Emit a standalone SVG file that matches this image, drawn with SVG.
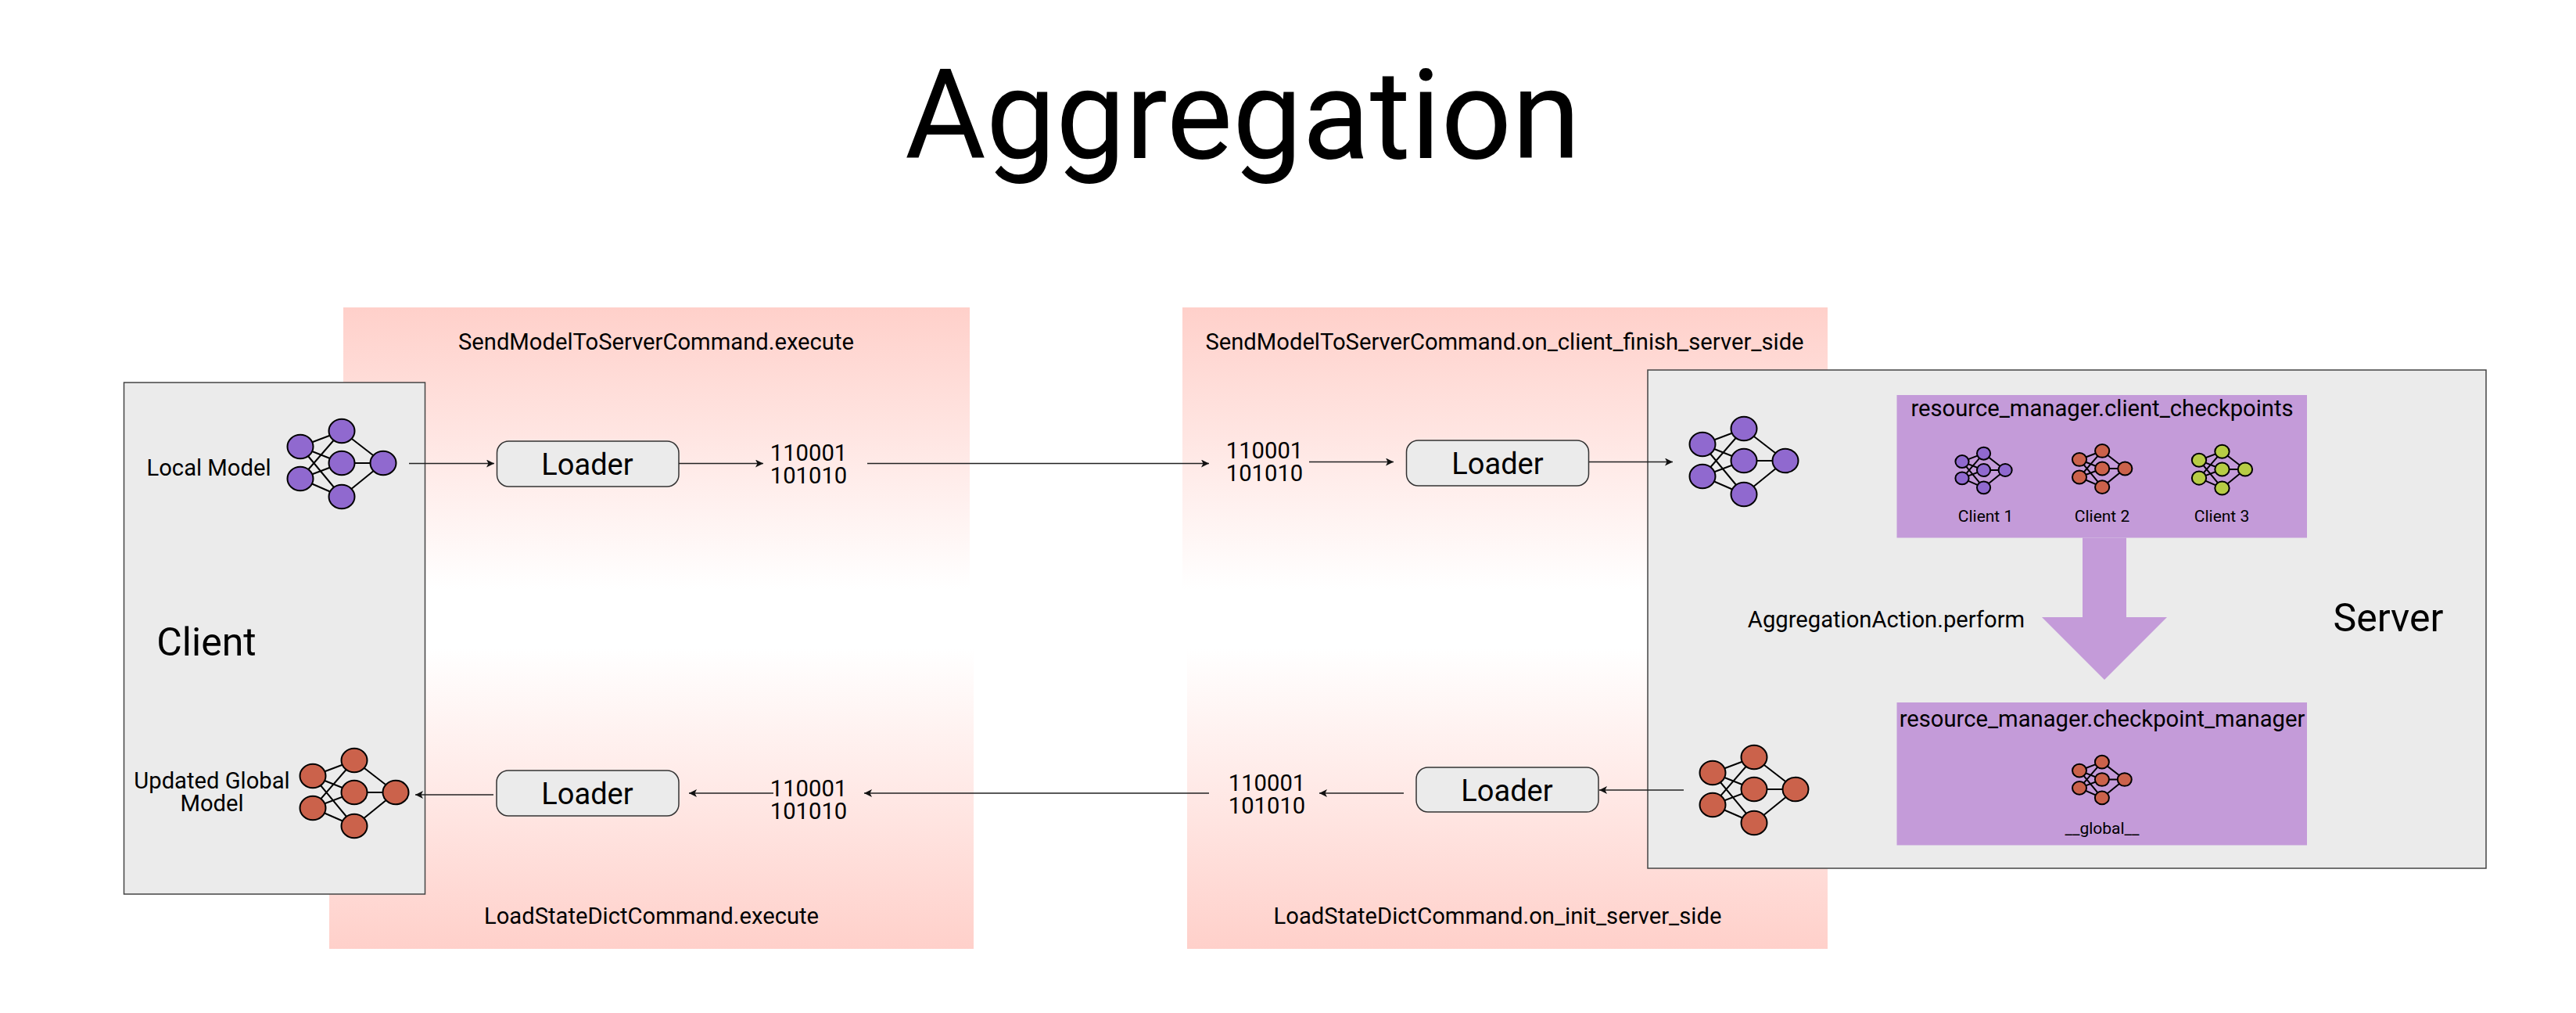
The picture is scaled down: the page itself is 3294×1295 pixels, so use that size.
<svg xmlns="http://www.w3.org/2000/svg" xmlns:xlink="http://www.w3.org/1999/xlink" width="3294" height="1295" viewBox="0 0 3294 1295">
<style>
text{font-family:Roboto,"Liberation Sans",sans-serif;fill:#000;text-anchor:middle}
.t{font-size:29.200px}
.l{font-size:38px}
.b{font-size:50px}
.s{font-size:21px}
.box{fill:#ebebeb;stroke:#444;stroke-width:1.5}
.loader{fill:#ebebeb;stroke:#333;stroke-width:1.5}
.pbox{fill:#c49bd9}
.conn{fill:none;stroke:#222;stroke-width:1.6;marker-end:url(#ah)}
.nl{stroke:#000;stroke-width:2;fill:none;vector-effect:non-scaling-stroke}
.nn{stroke:#000;stroke-width:2;vector-effect:non-scaling-stroke}
.pu{fill:#9069cf}.re{fill:#cb624b}.gr{fill:#b7cc45}
</style>
<defs>
<linearGradient id="gd" x1="0" y1="0" x2="0" y2="1"><stop offset="0" stop-color="#ffd0ca"/><stop offset="1" stop-color="#fff"/></linearGradient>
<linearGradient id="gu" x1="0" y1="1" x2="0" y2="0"><stop offset="0" stop-color="#ffd0ca"/><stop offset="1" stop-color="#fff"/></linearGradient>
<marker id="ah" markerUnits="userSpaceOnUse" markerWidth="12" markerHeight="12" refX="10" refY="5" orient="auto"><path d="M0 0L10 5L0 10L2.5 5Z" fill="#111"/></marker>
<g id="nn">
<path class="nl" d="M0-21L53-41M0-21L53 0M0-21L53 43M0 20L53-41M0 20L53 0M0 20L53 43M53-41L106 0M53 0L106 0M53 43L106 0"/>
<ellipse class="nn" cx="0" cy="-21" rx="16.500" ry="15.300"/><ellipse class="nn" cx="0" cy="20" rx="16.500" ry="15.300"/>
<ellipse class="nn" cx="53" cy="-41" rx="16.500" ry="15.300"/><ellipse class="nn" cx="53" cy="0" rx="16.500" ry="15.300"/><ellipse class="nn" cx="53" cy="43" rx="16.500" ry="15.300"/>
<ellipse class="nn" cx="106" cy="0" rx="16.500" ry="15.300"/>
</g>
</defs>
<rect width="3294" height="1295" fill="#fff"/>
<text id="title" x="1589" y="202" style="font-size:159px">Aggregation</text>

<g id="panel-send-client"><rect x="439" y="393" width="801" height="360" fill="url(#gd)"/><text class="t" x="839" y="447">SendModelToServerCommand.execute</text></g>
<g id="panel-send-server"><rect x="1512" y="393" width="825" height="360" fill="url(#gd)"/><text class="t" x="1924" y="447">SendModelToServerCommand.on_client_finish_server_side</text></g>
<g id="panel-load-client"><rect x="421" y="830" width="824" height="383" fill="url(#gu)"/><text class="t" x="833" y="1181">LoadStateDictCommand.execute</text></g>
<g id="panel-load-server"><rect x="1518" y="830" width="819" height="383" fill="url(#gu)"/><text class="t" x="1915" y="1181">LoadStateDictCommand.on_init_server_side</text></g>

<g id="client"><rect class="box" x="158.500" y="489" width="385" height="654"/><text class="b" x="264" y="838">Client</text></g>
<g id="server"><rect class="box" x="2107" y="473" width="1072" height="637"/><text class="b" x="3054" y="807">Server</text></g>

<g id="local-model"><text class="t" x="267" y="608">Local Model</text><use href="#nn" class="pu" transform="translate(384,592)"/></g>
<g id="updated-global-model"><text class="t" x="271" y="1008">Updated Global</text><text class="t" x="271" y="1037">Model</text><use href="#nn" class="re" transform="translate(400,1013)"/></g>
<g id="server-model-in"><use href="#nn" class="pu" transform="translate(2177,589)"/></g>
<g id="server-model-out"><use href="#nn" class="re" transform="translate(2190,1009)"/></g>

<g id="loader-1"><rect class="loader" x="635.500" y="564" width="232.500" height="58" rx="15"/><text class="l" x="751" y="607">Loader</text></g>
<g id="loader-2"><rect class="loader" x="1798.500" y="563" width="233" height="58" rx="15"/><text class="l" x="1915" y="606">Loader</text></g>
<g id="loader-3"><rect class="loader" x="635" y="985" width="233" height="58" rx="15"/><text class="l" x="751" y="1028">Loader</text></g>
<g id="loader-4"><rect class="loader" x="1811" y="981" width="233" height="57" rx="15"/><text class="l" x="1927" y="1024">Loader</text></g>

<g id="bits-1"><text class="t" x="1034" y="589">110001</text><text class="t" x="1034" y="618">101010</text></g>
<g id="bits-2"><text class="t" x="1617" y="586">110001</text><text class="t" x="1617" y="615">101010</text></g>
<g id="bits-3"><text class="t" x="1034" y="1018">110001</text><text class="t" x="1034" y="1047">101010</text></g>
<g id="bits-4"><text class="t" x="1620" y="1011">110001</text><text class="t" x="1620" y="1040">101010</text></g>

<g id="client-checkpoints"><rect class="pbox" x="2425.500" y="505" width="524.500" height="182.500"/>
<text class="t" x="2688" y="532">resource_manager.client_checkpoints</text>
<use href="#nn" class="pu" transform="translate(2509,601) scale(.52)"/>
<use href="#nn" class="re" transform="translate(2659,599) scale(.55)"/>
<use href="#nn" class="gr" transform="translate(2812,600) scale(.556)"/>
<text class="s" x="2539" y="667">Client 1</text><text class="s" x="2688" y="667">Client 2</text><text class="s" x="2841" y="667">Client 3</text></g>

<g id="checkpoint-manager"><rect class="pbox" x="2425.500" y="898" width="524.500" height="182.500"/>
<text class="t" x="2688" y="929">resource_manager.checkpoint_manager</text>
<use href="#nn" class="re" transform="translate(2659,996.500) scale(.545)"/>
<text class="s" x="2688" y="1066">__global__</text></g>

<g id="aggregation-action"><path class="pbox" d="M2663 687.500H2719V789H2771L2691 869L2611 789H2663Z"/><text class="t" x="2412" y="802">AggregationAction.perform</text></g>

<g id="connectors">
<path class="conn" d="M523 592.500H632"/>
<path class="conn" d="M868 592.500H976"/>
<path class="conn" d="M1109 592.500H1546"/>
<path class="conn" d="M1674 590.500H1782"/>
<path class="conn" d="M2032 590.500H2139"/>
<path class="conn" d="M2153 1010H2045"/>
<path class="conn" d="M1795 1014H1687"/>
<path class="conn" d="M1546 1014H1105"/>
<path class="conn" d="M989 1014H881"/>
<path class="conn" d="M631 1016H531"/>
</g>
</svg>
